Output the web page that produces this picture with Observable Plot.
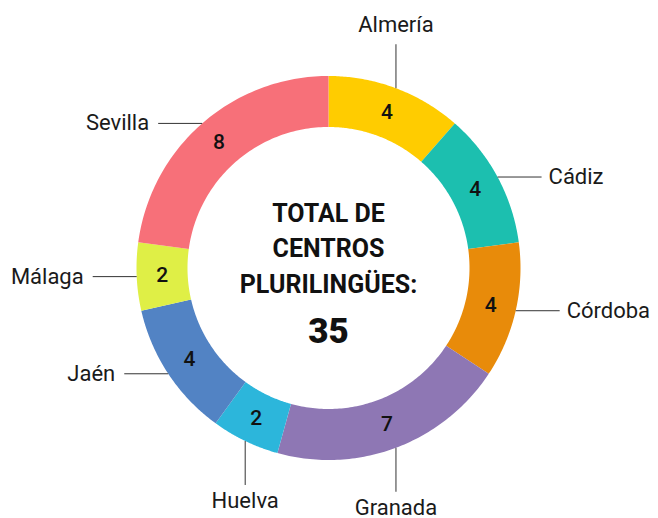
<!DOCTYPE html>
<html>
<head>
<meta charset="utf-8">
<script src="https://cdn.jsdelivr.net/npm/d3@7"></script>
<script src="https://cdn.jsdelivr.net/npm/@observablehq/plot@0.6"></script>
<style>
  html, body { margin: 0; padding: 0; background: #fff; }
  #chart svg { display: block; }
</style>
</head>
<body>
<div id="chart"></div>
<script>
// ---- data ----
const regiones = ["Almería", "Cádiz", "Córdoba", "Granada", "Huelva", "Jaén", "Málaga", "Sevilla"];
const centros = [4, 4, 4, 7, 2, 4, 2, 8];
const colores = ["#FFCC00", "#1CBFAF", "#E88B0A", "#8E77B4", "#2CB6DB", "#5283C4", "#DFEF46", "#F77079"];
const direcciones = ["up", "right", "right", "down", "down", "left", "left", "left"];
const tituloCentro = ["TOTAL DE", "CENTROS", "PLURILINGÜES:"];

// ---- layout ----
const W = 658, H = 518;
const R_OUT = 192, R_IN = 141, LEADER = 44;
const FONT = "Roboto, 'Liberation Sans', sans-serif";

const rows = regiones.map((region, i) => ({region, centros: centros[i], dir: direcciones[i]}));
const arcs = d3.pie().sort(null).value(d => d.centros)(rows);

// ring polygons
const poly = [];
for (const a of arcs) {
  const n = 80;
  for (let i = 0; i <= n; i++) {
    const t = a.startAngle + (a.endAngle - a.startAngle) * i / n;
    poly.push({region: a.data.region, x: R_OUT * Math.sin(t), y: R_OUT * Math.cos(t)});
  }
  for (let i = n; i >= 0; i--) {
    const t = a.startAngle + (a.endAngle - a.startAngle) * i / n;
    poly.push({region: a.data.region, x: R_IN * Math.sin(t), y: R_IN * Math.cos(t)});
  }
}

// value labels
const valores = arcs.map(a => {
  const m = (a.startAngle + a.endAngle) / 2, r = (R_OUT + R_IN) / 2;
  return {x: r * Math.sin(m), y: r * Math.cos(m), v: String(a.data.centros)};
});

// leaders
const leaders = arcs.map(a => {
  const m = (a.startAngle + a.endAngle) / 2;
  const x1 = R_OUT * Math.sin(m), y1 = R_OUT * Math.cos(m);
  let x2 = x1, y2 = y1, lx, ly;
  const d = a.data.dir;
  if (d === "up") { y2 = y1 + LEADER; lx = x2; ly = y2 + 19; }
  else if (d === "down") { y2 = y1 - LEADER; lx = x2; ly = y2 - 16; }
  else if (d === "right") { x2 = x1 + LEADER; lx = x2 + 7; ly = y2; }
  else { x2 = x1 - LEADER; lx = x2 - 9; ly = y2; }
  return {region: a.data.region, dir: d, x1, y1, x2, y2, lx, ly};
});

const total = d3.sum(centros);

const chart = Plot.plot({
  width: W,
  height: H,
  margin: 0,
  x: {domain: [-328, W - 328], axis: null},
  y: {domain: [-(H - 267.5), 267.5], axis: null},
  color: {domain: regiones, range: colores},
  style: {fontFamily: FONT, background: "#fff"},
  marks: [
    Plot.line(poly, {x: "x", y: "y", z: "region", fill: "region", stroke: "none"}),
    Plot.link(leaders, {x1: "x1", y1: "y1", x2: "x2", y2: "y2", stroke: "#333", strokeWidth: 1}),
    Plot.text(valores, {x: "x", y: "y", text: "v", fontSize: 21, fontWeight: 500, fill: "#111"}),
    Plot.text(leaders.filter(d => d.dir === "up" || d.dir === "down"), {x: "lx", y: "ly", text: "region", textAnchor: "middle", fontSize: 22, fill: "#1a1a1a"}),
    Plot.text(leaders.filter(d => d.dir === "right"), {x: "lx", y: "ly", text: "region", textAnchor: "start", fontSize: 22, fill: "#1a1a1a"}),
    Plot.text(leaders.filter(d => d.dir === "left"), {x: "lx", y: "ly", text: "region", textAnchor: "end", fontSize: 22, fill: "#1a1a1a"}),
    Plot.text([tituloCentro.join("\n")], {x: () => 0, y: () => 0, text: d => d, dy: -22, lineHeight: 1.42, fontSize: 25, fontWeight: 700, fill: "#111"}),
    Plot.text([String(total)], {x: () => 0, y: () => 0, text: d => d, dy: 64, fontSize: 35, fontWeight: 900, fill: "#111"})
  ]
});
document.getElementById("chart").appendChild(chart);
</script>
</body>
</html>
